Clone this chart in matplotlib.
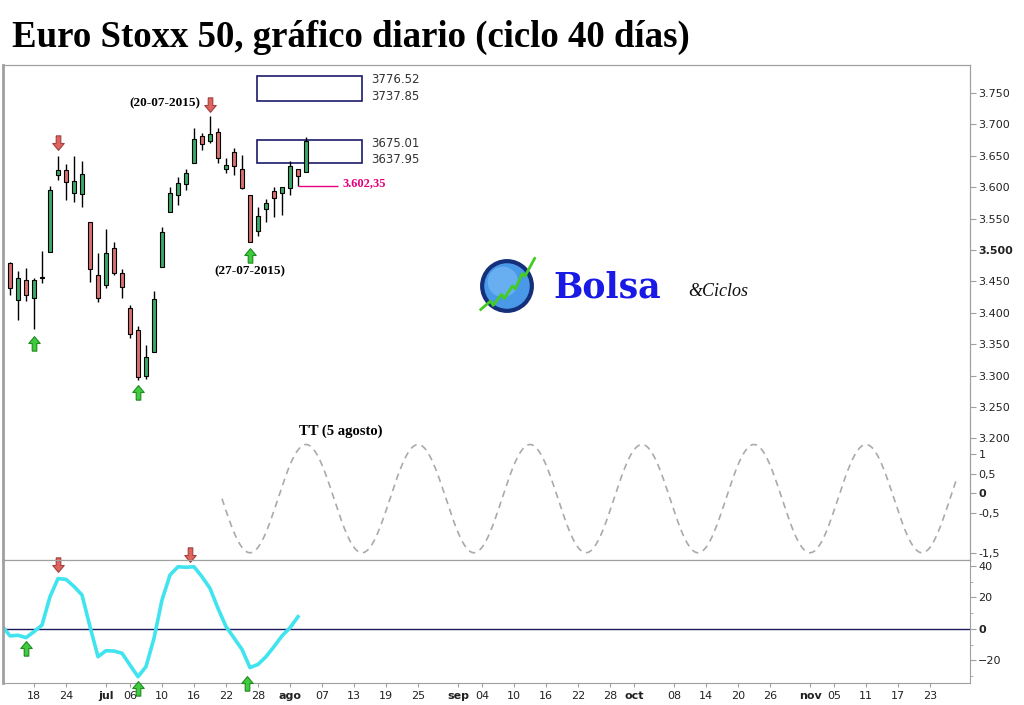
import matplotlib
matplotlib.use('Agg')
import matplotlib.pyplot as plt
import numpy as np
from matplotlib.patches import Rectangle, Circle
from matplotlib.path import Path

# daily candles, trading-day index 0 = 15-06-2015 ... 37 = 05-08-2015
opens  = [3480, 3420, 3453, 3423, 3455, 3497, 3619, 3628, 3590, 3589,
          3544, 3461, 3445, 3503, 3463, 3407, 3372, 3299, 3337, 3473,
          3561, 3587, 3605, 3638, 3681, 3673, 3688, 3629, 3656, 3629,
          3588, 3531, 3565, 3594, 3591, 3598, 3629, 3625]
highs  = [3481, 3466, 3471, 3455, 3498, 3602, 3650, 3637, 3650, 3642,
          3545, 3496, 3533, 3512, 3469, 3412, 3379, 3348, 3435, 3536,
          3600, 3616, 3629, 3694, 3686, 3713, 3694, 3647, 3662, 3652,
          3588, 3569, 3582, 3600, 3601, 3641, 3629, 3680]
lows   = [3428, 3388, 3419, 3375, 3447, 3497, 3612, 3579, 3577, 3569,
          3449, 3417, 3439, 3460, 3424, 3360, 3293, 3294, 3337, 3473,
          3561, 3571, 3596, 3638, 3660, 3671, 3638, 3622, 3620, 3597,
          3513, 3523, 3544, 3553, 3556, 3587, 3602.35, 3625]
closes = [3439, 3455, 3429, 3452, 3457, 3596, 3627, 3609, 3610, 3621,
          3469, 3424, 3496, 3464, 3441, 3367, 3297, 3329, 3422, 3528,
          3590, 3606, 3622, 3676, 3669, 3685, 3646, 3635, 3634, 3598,
          3513, 3554, 3575, 3583, 3600, 3634, 3618, 3674]

# cycle oscillator (index -1 .. 36)
osc_idx = list(range(-1, 37))
osc_val = [2, -4.4, -4, -5.5, -1.7, 2.5, 20.5, 32, 31.5, 27, 21.6, 1.5,
           -17.6, -13.8, -14, -15.4, -22.9, -30.3, -23.9, -5.9, 18.4, 34.3,
           39.5, 39.2, 39.5, 33.2, 25.8, 13.1, 1.5, -5.7, -13, -24.5, -22.5,
           -17.6, -11.2, -4.4, 0.8, 7.8]

# target boxes (low, high)
boxes = [(3737.85, 3776.52), (3637.95, 3675.01)]
support = 3602.35

# turning-point arrows
price_up = [(3, 3352), (16, 3274), (30, 3492)]
price_down = [(6, 3670), (25, 3731)]
osc_up = [(2, -12), (16, -37.5), (29.6, -34)]
osc_down = [(6, 40.6), (22.5, 47)]

# theoretical cycle (tops 14 bars apart on the chart, top on 5 agosto)
cycle_top = 37
cycle_period = 14
cycle_mid, cycle_amp = -0.13, 1.37
cycle_start, cycle_end = 26.5, 118.3

tick_pos = [3, 7, 12, 15, 19, 23, 27, 31, 35, 39, 43, 47, 51, 56, 59, 63, 67,
            71, 75, 78, 83, 87, 91, 95, 100, 103, 107, 111, 115]
tick_lab = ['18', '24', 'jul', '06', '10', '16', '22', '28', 'ago', '07', '13',
            '19', '25', 'sep', '04', '10', '16', '22', '28', 'oct', '08', '14',
            '20', '26', 'nov', '05', '11', '17', '23']
months = ['jul', 'ago', 'sep', 'oct', 'nov']

price_ticks = list(range(3200, 3751, 50))
cycle_ticks = [1, 0.5, 0, -0.5, -1.5]
osc_ticks = [40, 20, 0, -20]

GREEN = '#3aa866'
RED = '#d8706c'
GRAY = '#a0a0a0'

fig = plt.figure(figsize=(10.24, 7.05), dpi=100)
W, H = 1024, 705

def px(x0, y0, w, h):
    return [x0 / W, 1 - (y0 + h) / H, w / W, h / H]

ax = fig.add_axes(px(3, 65, 967, 495))
axl = fig.add_axes(px(3, 560, 967, 123))
xlim = (-0.875, 120)

up_path = Path([(-0.3, -1), (0.3, -1), (0.3, 0), (0.75, 0), (0, 0.9), (-0.75, 0), (-0.3, 0), (-0.3, -1)])
down_path = Path([(x, -y) for x, y in up_path.vertices])

def arrows(a, pts, path, fc, ec):
    a.plot([p[0] for p in pts], [p[1] for p in pts], ls='none', marker=path,
           markersize=11, markerfacecolor=fc, markeredgecolor=ec, markeredgewidth=0.8,
           clip_on=False, zorder=6)

# ---- upper pane: candles ----
idx = np.arange(len(opens))
o = np.array(opens); c = np.array(closes)
col = [GREEN if cc >= oo else RED for oo, cc in zip(opens, closes)]
ax.vlines(idx, lows, highs, color='black', lw=1, zorder=2)
ax.bar(idx, np.maximum(np.abs(c - o), 1.5), bottom=np.minimum(o, c), width=0.62,
       color=col, edgecolor='black', linewidth=0.8, zorder=3)

for lo, hi in boxes:
    ax.add_patch(Rectangle((30.9, lo), 13.1, hi - lo, fill=False, edgecolor='#1a1a6a', lw=1.2))
    ax.text(45.1, hi - 5, f'{hi:.2f}', fontsize=8.5, color='#333333', va='center', ha='left')
    ax.text(45.1, lo + 6, f'{lo:.2f}', fontsize=8.5, color='#333333', va='center', ha='left')

ax.hlines(support, 36, 41, color='#e6007e', lw=1)
ax.text(41.6, support + 4, '3.602,35', color='#e6007e', fontsize=9, fontweight='bold',
        family='Liberation Serif', va='center', ha='left')

arrows(ax, price_up, up_path, '#3ccc3c', '#228822')
arrows(ax, price_down, down_path, '#e0645e', '#a04040')

ax.text(19.3, 3734, '(20-07-2015)', fontsize=9.5, fontweight='bold', family='Liberation Serif',
        ha='center', va='center')
ax.text(30, 3466, '(27-07-2015)', fontsize=9.5, fontweight='bold', family='Liberation Serif',
        ha='center', va='center')
ax.text(41.4, 3212, 'TT (5 agosto)', fontsize=10.5, fontweight='bold', family='Liberation Serif',
        ha='center', va='center')

ax.set_xlim(*xlim)
ax.set_ylim(3006.4, 3794.6)
ax.set_xticks([])

# cycle on its own scale
ax2 = ax.twinx()
t = np.linspace(cycle_start, cycle_end, 800)
ax2.plot(t, cycle_mid + cycle_amp * np.cos(2 * np.pi * (t - cycle_top) / cycle_period),
         ls=(0, (4, 3)), color='#aaaaaa', lw=1.2)
ax2.set_ylim(-1.684, 10.85)
ax2.set_yticks(cycle_ticks)
ax2.set_yticklabels(['1', '0,5', '0', '-0,5', '-1,5'])
ax2.get_yticklabels()[2].set_fontweight('bold')

ax.yaxis.tick_right()
ax.set_yticks(price_ticks)
ax.set_yticklabels([f'{v:,}'.replace(',', '.') for v in price_ticks])
for lab in ax.get_yticklabels():
    if lab.get_text() == '3.500':
        lab.set_fontweight('bold')

# ---- lower pane: oscillator ----
axl.axhline(0, color='#1c1c5c', lw=1)
axl.plot(osc_idx, osc_val, color='#40e4ee', lw=2.6, solid_joinstyle='round')
arrows(axl, osc_up, up_path, '#3ccc3c', '#228822')
arrows(axl, osc_down, down_path, '#e0645e', '#a04040')
axl.set_xlim(*xlim)
axl.set_ylim(-34.3, 43.8)
axl.yaxis.tick_right()
axl.set_yticks(osc_ticks)
axl.set_yticks([30, 10, -10, -30], minor=True)
axl.get_yticklabels()[2].set_fontweight('bold')
axl.set_xticks(tick_pos)
axl.set_xticklabels(tick_lab)
for lab in axl.get_xticklabels():
    if lab.get_text() in months:
        lab.set_fontweight('bold')

for a in (ax, ax2, axl):
    for s in a.spines.values():
        s.set_color(GRAY)
    a.tick_params(axis='both', which='both', colors=GRAY, labelcolor='#222222',
                  labelsize=8, length=4, pad=2)
    a.tick_params(axis='y', which='minor', length=2)
ax.spines['left'].set_linewidth(2)
axl.spines['left'].set_linewidth(2)
axl.tick_params(axis='x', length=3, pad=3)

# ---- title and logo ----
fig.text(12 / W, 1 - 37 / H, 'Euro Stoxx 50, gráfico diario (ciclo 40 días)',
         fontsize=26.5, fontweight='bold', family='Liberation Serif', va='center', ha='left')

logo = fig.add_axes(px(478, 257, 58, 58))
logo.set_xlim(-1.05, 1.05)
logo.set_ylim(-1.05, 1.05)
logo.axis('off')
logo.add_patch(Circle((0, 0), 0.9, fc='#4a98e8', ec='#14307a', lw=3))
logo.add_patch(Circle((-0.15, 0.15), 0.55, fc='#7cc0f6', ec='none', alpha=0.6))
logo.plot([-0.95, -0.6, -0.5, -0.2, -0.1, 0.2, 0.3, 0.55, 0.65, 1.0],
          [-0.85, -0.55, -0.7, -0.3, -0.45, 0.0, -0.1, 0.45, 0.35, 1.0],
          color='#44cc22', lw=2, clip_on=False)
fig.text(553 / W, 1 - 288 / H, 'Bolsa', fontsize=25, fontweight='bold', family='DejaVu Serif',
         color='#1a1ae6', va='center', ha='left')
fig.text(688 / W, 1 - 291 / H, '&Ciclos', fontsize=13, style='italic', family='Liberation Serif',
         color='#111111', va='center', ha='left')

fig.savefig('out.png', dpi=100)
